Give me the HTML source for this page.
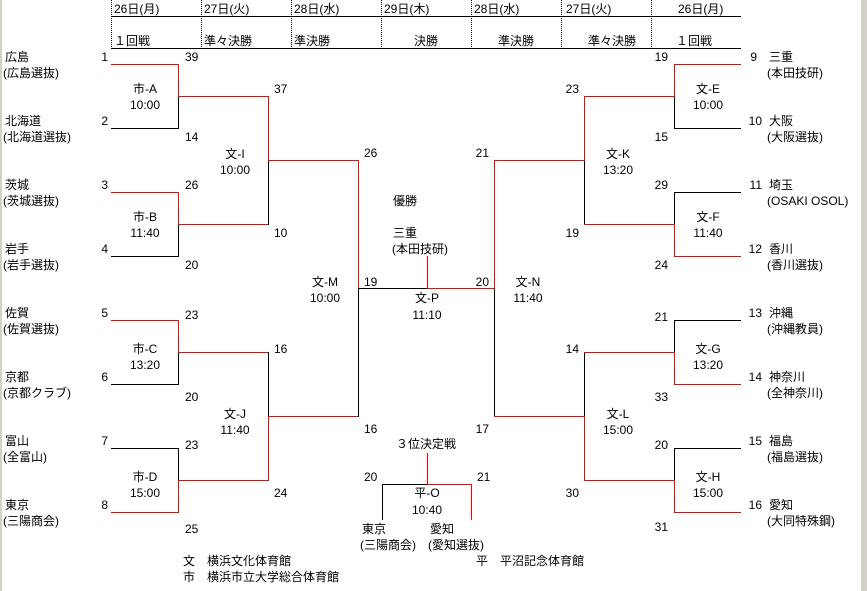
<!DOCTYPE html>
<html><head><meta charset="utf-8"><style>
html,body{margin:0;padding:0;background:#fff;}
body{width:867px;height:591px;overflow:hidden;position:relative;}
svg{position:absolute;left:0;top:0;}
text{font-family:"Liberation Sans","Noto Sans CJK JP",sans-serif;font-size:12px;fill:#000;dominant-baseline:central;}
.m{text-anchor:middle;}
.e{text-anchor:end;}
</style></head><body>
<svg width="867" height="591" viewBox="0 0 867 591" shape-rendering="crispEdges">
<rect x="0" y="0" width="2" height="591" fill="#d4d0c8"/>
<rect x="861" y="0" width="6" height="591" fill="#d4d0c8"/>
<g stroke="#000" stroke-width="1" stroke-dasharray="1,1">
<line x1="111.5" y1="0" x2="111.5" y2="48"/><line x1="201.5" y1="0" x2="201.5" y2="48"/>
<line x1="291.5" y1="0" x2="291.5" y2="48"/><line x1="381.5" y1="0" x2="381.5" y2="48"/>
<line x1="471.5" y1="0" x2="471.5" y2="48"/><line x1="561.5" y1="0" x2="561.5" y2="48"/>
<line x1="651.5" y1="0" x2="651.5" y2="48"/>
</g>
<g stroke="#000" stroke-width="1">
<line x1="111" y1="16.5" x2="741" y2="16.5"/><line x1="111" y1="48.5" x2="741" y2="48.5"/>
</g>
<g stroke="#000" stroke-width="1" fill="none">
<path d="M111 128.5H178.5V96"/><path d="M111 256.5H178.5V224"/><path d="M111 384.5H178.5V352"/><path d="M111 448.5H178.5V480"/>
<path d="M268.5 160V224.5H178"/><path d="M268.5 352.5H178M268.5 352V416"/>
<path d="M358.5 288V416.5H268M358 288.5H427"/>
<path d="M741 128.5H674.5V96"/><path d="M741 192.5H674.5V224"/><path d="M741 320.5H674.5V352"/><path d="M741 448.5H674.5V480"/>
<path d="M584.5 160V224"/><path d="M584.5 352V416"/>
<path d="M494.5 288V416"/>
<path d="M382.5 520V484.5H427"/>
</g>
<g stroke="#f00" stroke-width="1" fill="none">
<path d="M111 64.5H178.5V96.5H268.5V160.5H358.5V288"/>
<path d="M111 192.5H178.5V224.5H268"/>
<path d="M111 320.5H178.5V352.5H268"/>
<path d="M111 512.5H178.5V480.5H268.5V416.5H358"/>
<path d="M741 64.5H674.5V96.5H584.5V160.5H494.5V288.5H427"/>
<path d="M741 256.5H674.5V224.5H584"/>
<path d="M741 384.5H674.5V352.5H584"/>
<path d="M741 512.5H674.5V480.5H584.5V416.5H494"/>
<path d="M427.5 256V288"/>
<path d="M427.5 453V484.5H471.5V520"/>
</g>
<text x="114" y="9">26日(月)</text><text x="204" y="9">27日(火)</text><text x="294" y="9">28日(水)</text><text x="384" y="9">29日(木)</text>
<text x="474" y="9">28日(水)</text><text x="566" y="9">27日(火)</text><text x="678" y="9">26日(月)</text>
<text x="114" y="41">１回戦</text><text x="204" y="41">準々決勝</text><text x="294" y="41">準決勝</text><text x="426" y="41" class="m">決勝</text>
<text x="498" y="41">準決勝</text><text x="588" y="41">準々決勝</text><text x="676" y="41">１回戦</text>
<text x="5" y="57">広島</text><text x="3" y="73">(広島選抜)</text><text x="108" y="57" class="e">1</text>
<text x="5" y="121">北海道</text><text x="3" y="137">(北海道選抜)</text><text x="108" y="121" class="e">2</text>
<text x="5" y="185">茨城</text><text x="3" y="201">(茨城選抜)</text><text x="108" y="185" class="e">3</text>
<text x="5" y="249">岩手</text><text x="3" y="265">(岩手選抜)</text><text x="108" y="249" class="e">4</text>
<text x="5" y="313">佐賀</text><text x="3" y="329">(佐賀選抜)</text><text x="108" y="313" class="e">5</text>
<text x="5" y="377">京都</text><text x="3" y="393">(京都クラブ)</text><text x="108" y="377" class="e">6</text>
<text x="5" y="441">富山</text><text x="3" y="457">(全富山)</text><text x="108" y="441" class="e">7</text>
<text x="5" y="505">東京</text><text x="3" y="521">(三陽商会)</text><text x="108" y="505" class="e">8</text>
<text x="757" y="57" class="e">9</text><text x="769" y="57">三重</text><text x="767" y="73">(本田技研)</text>
<text x="762" y="121" class="e">10</text><text x="769" y="121">大阪</text><text x="767" y="137">(大阪選抜)</text>
<text x="762" y="185" class="e">11</text><text x="769" y="185">埼玉</text><text x="767" y="201">(OSAKI OSOL)</text>
<text x="762" y="249" class="e">12</text><text x="769" y="249">香川</text><text x="767" y="265">(香川選抜)</text>
<text x="762" y="313" class="e">13</text><text x="769" y="313">沖縄</text><text x="767" y="329">(沖縄教員)</text>
<text x="762" y="377" class="e">14</text><text x="769" y="377">神奈川</text><text x="767" y="393">(全神奈川)</text>
<text x="762" y="441" class="e">15</text><text x="769" y="441">福島</text><text x="767" y="457">(福島選抜)</text>
<text x="762" y="505" class="e">16</text><text x="769" y="505">愛知</text><text x="767" y="521">(大同特殊鋼)</text>
<text x="185" y="57">39</text><text x="185" y="137">14</text><text x="185" y="185">26</text><text x="185" y="265">20</text>
<text x="185" y="315">23</text><text x="185" y="397">20</text><text x="185" y="445">23</text><text x="185" y="529">25</text>
<text x="274" y="89">37</text><text x="274" y="233">10</text><text x="274" y="349">16</text><text x="274" y="493">24</text>
<text x="364" y="153">26</text><text x="364" y="282">19</text><text x="364" y="429">16</text>
<text x="668" y="57" class="e">19</text><text x="668" y="137" class="e">15</text><text x="668" y="185" class="e">29</text><text x="668" y="265" class="e">24</text>
<text x="668" y="317" class="e">21</text><text x="668" y="397" class="e">33</text><text x="668" y="445" class="e">20</text><text x="668" y="527" class="e">31</text>
<text x="579" y="89" class="e">23</text><text x="579" y="233" class="e">19</text><text x="579" y="349" class="e">14</text><text x="579" y="493" class="e">30</text>
<text x="489" y="153" class="e">21</text><text x="489" y="282" class="e">20</text><text x="489" y="429" class="e">17</text>
<text x="145" y="89" class="m">市-A</text><text x="145" y="105" class="m">10:00</text>
<text x="145" y="217" class="m">市-B</text><text x="145" y="233" class="m">11:40</text>
<text x="145" y="349" class="m">市-C</text><text x="145" y="365" class="m">13:20</text>
<text x="145" y="477" class="m">市-D</text><text x="145" y="493" class="m">15:00</text>
<text x="235" y="154" class="m">文-I</text><text x="235" y="170" class="m">10:00</text>
<text x="235" y="414" class="m">文-J</text><text x="235" y="430" class="m">11:40</text>
<text x="325" y="282" class="m">文-M</text><text x="325" y="298" class="m">10:00</text>
<text x="708" y="89" class="m">文-E</text><text x="708" y="105" class="m">10:00</text>
<text x="708" y="217" class="m">文-F</text><text x="708" y="233" class="m">11:40</text>
<text x="708" y="349" class="m">文-G</text><text x="708" y="365" class="m">13:20</text>
<text x="708" y="477" class="m">文-H</text><text x="708" y="493" class="m">15:00</text>
<text x="618" y="154" class="m">文-K</text><text x="618" y="170" class="m">13:20</text>
<text x="618" y="414" class="m">文-L</text><text x="618" y="430" class="m">15:00</text>
<text x="528" y="282" class="m">文-N</text><text x="528" y="298" class="m">11:40</text>
<text x="427" y="298" class="m">文-P</text><text x="427" y="315" class="m">11:10</text>
<text x="393" y="201">優勝</text>
<text x="393" y="233">三重</text><text x="392" y="249">(本田技研)</text>
<text x="396" y="444">３位決定戦</text>
<text x="427" y="493" class="m">平-O</text><text x="427" y="510" class="m">10:40</text>
<text x="364" y="477">20</text><text x="477" y="477">21</text>
<text x="362" y="529">東京</text><text x="360" y="545">(三陽商会)</text>
<text x="430" y="529">愛知</text><text x="428" y="545">(愛知選抜)</text>
<text x="183" y="561">文　横浜文化体育館</text>
<text x="183" y="577">市　横浜市立大学総合体育館</text>
<text x="476" y="561">平　平沼記念体育館</text>
</svg>
</body></html>
